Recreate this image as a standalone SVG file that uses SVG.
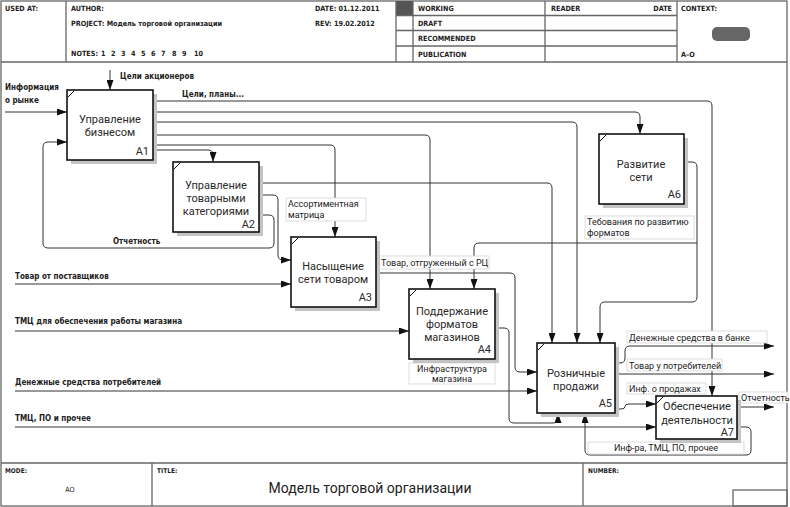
<svg xmlns="http://www.w3.org/2000/svg" width="790" height="507" viewBox="0 0 790 507">
<defs>
<marker id="ah" markerWidth="10" markerHeight="7" refX="10" refY="3.5" orient="auto" markerUnits="userSpaceOnUse">
<path d="M0,0 L10,3.5 L0,7 z" fill="#111"/>
</marker>
<style>
.frame{fill:none;stroke:#666;stroke-width:1.3}
.hdr{font-family:"DejaVu Sans Condensed","Liberation Sans Narrow","Liberation Sans",sans-serif;font-stretch:condensed;font-weight:bold;font-size:7.2px;fill:#222}
.bl{font-family:"DejaVu Sans Condensed","Liberation Sans Narrow","Liberation Sans",sans-serif;font-stretch:condensed;font-weight:bold;font-size:8px;fill:#222}
.nt{font-family:Roboto,"Liberation Sans",sans-serif;font-size:11px;fill:#2a2a2a;text-anchor:middle}
.nid{font-family:Roboto,"Liberation Sans",sans-serif;font-size:11px;fill:#2a2a2a;text-anchor:end}
.cl{font-family:Roboto,"Liberation Sans",sans-serif;font-size:9px;fill:#222}
.lb{fill:#fff;stroke:#d4d4d4;stroke-width:0.8}
.box{fill:#fff;stroke:#111;stroke-width:1.6}
.sh{fill:#c4c4c4}
.tick{stroke:#111;stroke-width:1}
.c{fill:none;stroke:#333;stroke-width:1}
.ca{fill:none;stroke:#333;stroke-width:1;marker-end:url(#ah)}
</style>
</defs>
<rect x="0" y="0" width="790" height="507" fill="#fff"/>
<g id="frame">
<rect class="frame" x="1" y="1" width="786" height="505"/>
<line class="frame" x1="1" y1="62" x2="787" y2="62"/>
<line class="frame" x1="1" y1="463" x2="787" y2="463"/>
<line class="frame" x1="66" y1="1" x2="66" y2="62"/>
<rect x="396" y="1" width="17" height="14.5" fill="#555"/>
<line class="frame" x1="396" y1="1" x2="396" y2="62"/>
<line class="frame" x1="413" y1="1" x2="413" y2="62"/>
<line class="frame" x1="545" y1="1" x2="545" y2="62"/>
<line class="frame" x1="677" y1="1" x2="677" y2="62"/>
<line class="frame" x1="396" y1="15.5" x2="677" y2="15.5"/>
<line class="frame" x1="396" y1="30.5" x2="677" y2="30.5"/>
<line class="frame" x1="396" y1="46" x2="677" y2="46"/>
<rect x="712" y="27" width="38" height="14" rx="5" fill="#666"/>
<line class="frame" x1="152" y1="463" x2="152" y2="506"/>
<line class="frame" x1="583" y1="463" x2="583" y2="506"/>
<rect class="frame" x="733" y="490" width="54" height="16"/>
</g>
<g id="header-text">
<text class="hdr" x="5" y="11">USED AT:</text>
<text class="hdr" x="71" y="11">AUTHOR:</text>
<text class="hdr" x="71" y="26">PROJECT: Модель торговой организации</text>
<text class="hdr" x="71" y="56">NOTES:<tspan x="101">1</tspan><tspan x="111">2</tspan><tspan x="121">3</tspan><tspan x="131">4</tspan><tspan x="141">5</tspan><tspan x="151">6</tspan><tspan x="161">7</tspan><tspan x="172">8</tspan><tspan x="182">9</tspan><tspan x="194">10</tspan></text>
<text class="hdr" x="315" y="11">DATE: 01.12.2011</text>
<text class="hdr" x="315" y="26">REV: 19.02.2012</text>
<text class="hdr" x="418" y="10.5">WORKING</text>
<text class="hdr" x="418" y="25.5">DRAFT</text>
<text class="hdr" x="418" y="41">RECOMMENDED</text>
<text class="hdr" x="418" y="56.5">PUBLICATION</text>
<text class="hdr" x="551" y="10.5">READER</text>
<text class="hdr" x="672" y="10.5" text-anchor="end">DATE</text>
<text class="hdr" x="681" y="10.5">CONTEXT:</text>
<text class="hdr" x="681" y="57">A–O</text>
<text class="hdr" x="5" y="473" style="font-size:6.5px">MODE:</text>
<text class="hdr" x="157" y="473" style="font-size:6.5px">TITLE:</text>
<text class="hdr" x="588" y="473" style="font-size:6.5px">NUMBER:</text>
<text class="hdr" x="70" y="492" text-anchor="middle" style="font-weight:normal">AO</text>
<text x="370" y="493" text-anchor="middle" style="font-family:Roboto,'Liberation Sans',sans-serif;font-size:14px;fill:#222">Модель торговой организации</text>
</g>
<g id="connectors">
<path class="ca" d="M153,101 H707 Q712,101 712,106 V396"/>
<path class="ca" d="M153,112 H635 Q640,112 640,117 V134"/>
<path class="ca" d="M153,122 H572 Q577,122 577,127 V343"/>
<path class="ca" d="M153,135 H425 Q430,135 430,140 V289"/>
<path class="ca" d="M153,145 H330 Q335,145 335,150 V237"/>
<path class="ca" d="M153,150 H208 Q213,150 213,155 V162"/>
<path class="ca" d="M5,112 H67"/>
<path class="ca" d="M110,70 V90"/>
<path class="ca" d="M259,215 H269 Q274,215 274,220 V243 Q274,248 269,248 H48 Q43,248 43,243 V147 Q43,142 48,142 H67"/>
<path class="ca" d="M259,195 H273 Q278,195 278,200 V255 Q278,260 283,260 H291"/>
<path class="ca" d="M259,183 H547 Q552,183 552,188 V343"/>
<path class="ca" d="M15,284 H291"/>
<path class="ca" d="M15,331 H409"/>
<path class="ca" d="M15,391 H537"/>
<path class="ca" d="M15,427 H656"/>
<path class="ca" d="M376,273 H510 Q515,273 515,278 V367 Q515,372 520,372 H537"/>
<path class="ca" d="M495,328 H504 Q509,328 509,333 V418 Q509,423 514,423 H553 Q558,423 558,418 V413"/>
<path class="ca" d="M684,162 H692 Q697,162 697,167 V297 Q697,302 692,302 H605 Q600,302 600,307 V343"/>
<path class="ca" d="M697,243 H479 Q474,243 474,248 V289"/>
<path class="ca" d="M615,363 H620 Q625,363 625,358 V351 Q625,346 630,346 H774"/>
<path class="ca" d="M615,374 H774"/>
<path class="ca" d="M615,409 H621 Q625,409 625,406.5 Q625,404 629,404 H656"/>
<path class="ca" d="M737,407 H774"/>
<path class="ca" d="M737,427 H746 Q751,427 751,432 V450 Q751,455 746,455 H590 Q585,455 585,450 V413"/>
</g>
<g id="connector-labels">
<text class="bl" x="5" y="90">Информация</text>
<text class="bl" x="5" y="103">о рынке</text>
<text class="bl" x="120" y="79">Цели акционеров</text>
<text class="bl" x="182" y="97">Цели, планы...</text>
<text class="bl" x="113" y="244">Отчетность</text>
<text class="bl" x="15" y="279">Товар от поставщиков</text>
<text class="bl" x="15" y="324">ТМЦ для обеспечения работы магазина</text>
<text class="bl" x="15" y="385">Денежные средства потребителей</text>
<text class="bl" x="15" y="421">ТМЦ, ПО и прочее</text>
<rect class="lb" x="286" y="198" width="80" height="23"/>
<text class="cl" x="288" y="207">Ассортиментная</text>
<text class="cl" x="288" y="218">матрица</text>
<rect class="lb" x="379" y="256" width="110" height="13"/>
<text class="cl" x="381" y="266">Товар, отгруженный с РЦ</text>
<rect class="lb" x="585" y="216" width="109" height="23"/>
<text class="cl" x="587" y="225">Тебования по развитию</text>
<text class="cl" x="587" y="236">форматов</text>
<rect class="lb" x="409" y="363" width="86" height="21"/>
<text class="cl" x="452" y="372" text-anchor="middle">Инфраструктура</text>
<text class="cl" x="452" y="382" text-anchor="middle">магазина</text>
<rect class="lb" x="627" y="331" width="140" height="12"/>
<text class="cl" x="629" y="341">Денежные средства в банке</text>
<rect class="lb" x="627" y="359" width="95" height="12"/>
<text class="cl" x="629" y="369">Товар у потребителей</text>
<rect class="lb" x="627" y="383" width="79" height="11"/>
<text class="cl" x="629" y="392">Инф. о продажах</text>
<rect class="lb" x="739" y="392" width="49" height="11"/>
<text class="cl" x="741" y="401">Отчетность</text>
<rect class="lb" x="588" y="442" width="156" height="12"/>
<text class="cl" x="666" y="451" text-anchor="middle">Инф-ра, ТМЦ, ПО, прочее</text>
</g>
<g id="A1">
<rect class="sh" x="71" y="94" width="86" height="70"/>
<rect class="box" x="67" y="90" width="86" height="70"/>
<line class="tick" x1="68" y1="97" x2="74" y2="91"/>
<text class="nt" x="110" y="123">Управление</text>
<text class="nt" x="110" y="136">бизнесом</text>
<text class="nid" x="149" y="155">A1</text>
</g>
<g id="A2">
<rect class="sh" x="177" y="166" width="86" height="70"/>
<rect class="box" x="173" y="162" width="86" height="70"/>
<line class="tick" x1="174" y1="169" x2="180" y2="163"/>
<text class="nt" x="216" y="189">Управление</text>
<text class="nt" x="216" y="202">товарными</text>
<text class="nt" x="216" y="215">категориями</text>
<text class="nid" x="255" y="228">A2</text>
</g>
<g id="A3">
<rect class="sh" x="295" y="241" width="85" height="70"/>
<rect class="box" x="291" y="237" width="85" height="70"/>
<line class="tick" x1="292" y1="244" x2="298" y2="238"/>
<text class="nt" x="333" y="270">Насыщение</text>
<text class="nt" x="333" y="283">сети товаром</text>
<text class="nid" x="372" y="301">A3</text>
</g>
<g id="A4">
<rect class="sh" x="413" y="293" width="86" height="70"/>
<rect class="box" x="409" y="289" width="86" height="70"/>
<line class="tick" x1="410" y1="296" x2="416" y2="290"/>
<text class="nt" x="452" y="315">Поддержание</text>
<text class="nt" x="452" y="328">форматов</text>
<text class="nt" x="452" y="341">магазинов</text>
<text class="nid" x="491" y="353">A4</text>
</g>
<g id="A5">
<rect class="sh" x="541" y="347" width="78" height="70"/>
<rect class="box" x="537" y="343" width="78" height="70"/>
<line class="tick" x1="538" y1="350" x2="544" y2="344"/>
<text class="nt" x="576" y="377">Розничные</text>
<text class="nt" x="576" y="390">продажи</text>
<text class="nid" x="612" y="407">A5</text>
</g>
<g id="A6">
<rect class="sh" x="603" y="138" width="85" height="70"/>
<rect class="box" x="599" y="134" width="85" height="70"/>
<line class="tick" x1="600" y1="141" x2="606" y2="135"/>
<text class="nt" x="641" y="168">Развитие</text>
<text class="nt" x="641" y="181">сети</text>
<text class="nid" x="681" y="198">A6</text>
</g>
<g id="A7">
<rect class="sh" x="660" y="400" width="81" height="43"/>
<rect class="box" x="656" y="396" width="81" height="43"/>
<line class="tick" x1="657" y1="403" x2="663" y2="397"/>
<text class="nt" x="697" y="410">Обеспечение</text>
<text class="nt" x="697" y="424">деятельности</text>
<text class="nid" x="734" y="436">A7</text>
</g>
</svg>
